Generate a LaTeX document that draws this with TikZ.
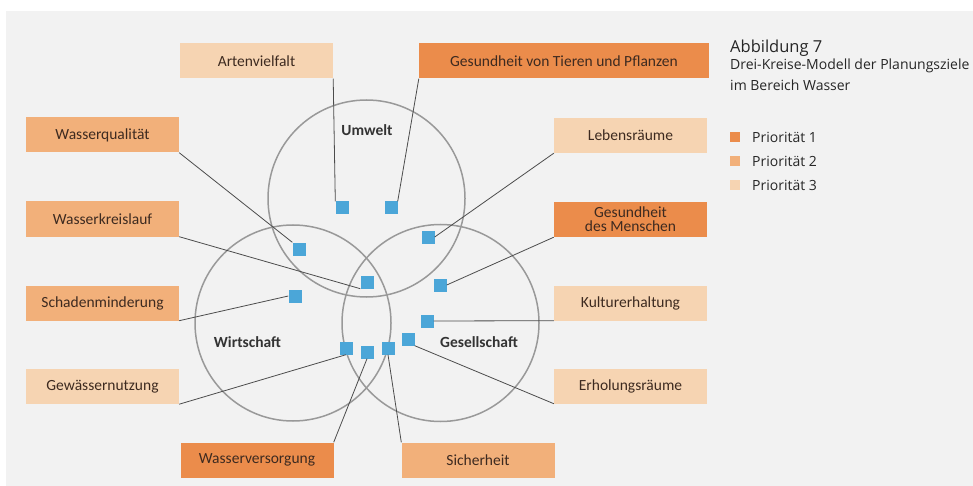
\documentclass[tikz,border=0pt]{standalone}
\usepackage{fontspec}
\setmainfont{Carlito}
\newfontfamily\legendfont{Open Sans}
\definecolor{prioA}{HTML}{EB8C4B}
\definecolor{prioB}{HTML}{F2B07A}
\definecolor{prioC}{HTML}{F6D4B2}
\definecolor{boxtext}{HTML}{3D2A20}
\definecolor{sqblue}{HTML}{4BA6D8}
\definecolor{panel}{HTML}{F2F2F2}
\begin{document}
\begin{tikzpicture}[x=1pt, y=-1pt,
    goal/.style={rectangle, minimum width=153pt, minimum height=35pt, inner sep=0pt,
        text=boxtext, font=\fontsize{15.5}{15}\selectfont, align=center},
    mark1/.style={goal, fill=prioA},
    mark2/.style={goal, fill=prioB},
    mark3/.style={goal, fill=prioC},
    spot/.style={rectangle, fill=sqblue, minimum size=13pt, inner sep=0pt},
    ring/.style={draw=black!40, line width=1.5pt},
    link/.style={draw=black!70, line width=0.8pt},
    ringlabel/.style={text=black!80, font=\fontsize{15.5}{15}\selectfont\bfseries},
    legend/.style={anchor=west, inner sep=0pt, text=black!85, font=\legendfont\fontsize{14}{14}\selectfont}]
    \useasboundingbox (0,0) rectangle (973,486);
    \fill[panel] (6,11) rectangle (973,486);

    % Three circles
    \draw[ring] (366.5,198.5) circle (98.5);
    \draw[ring] (293,323) circle (98);
    \draw[ring] (440.5,323) circle (98.5);
    \node[ringlabel] (umwelt) at (367,130) {Umwelt};
    \node[ringlabel] (wirtschaft) at (247.5,342) {Wirtschaft};
    \node[ringlabel] (gesellschaft) at (479,342) {Gesellschaft};

    % Goal boxes
    \node[mark3] (arten) at (256.5,61) {Artenvielfalt};
    \node[mark1, minimum width=290pt] (tiere) at (564,61) {Gesundheit von Tieren und Pflanzen};
    \node[mark2] (qualitaet) at (102.5,135) {Wasserqualität};
    \node[mark2] (kreislauf) at (102.5,219) {Wasserkreislauf};
    \node[mark2] (schaden) at (102.5,303) {Schadenminderung};
    \node[mark3] (nutzung) at (102.5,386.5) {Gewässernutzung};
    \node[mark3] (lebens) at (630.5,135.5) {Lebensräume};
    \node[mark1] (mensch) at (630.5,219.5) {Gesundheit\\[-1pt]des Menschen};
    \node[mark3] (kultur) at (630.5,303) {Kulturerhaltung};
    \node[mark3] (erholung) at (630.5,386) {Erholungsräume};
    \node[mark1] (versorgung) at (257,460) {Wasserversorgung};
    \node[mark2] (sicher) at (478,460) {Sicherheit};

    % Blue markers
    \node[spot] (s1) at (342,208) {};
    \node[spot] (s2) at (391,208) {};
    \node[spot] (s3) at (299,249) {};
    \node[spot] (s4) at (428,237) {};
    \node[spot] (s5) at (367,282) {};
    \node[spot] (s6) at (295,296) {};
    \node[spot] (s7) at (440,285) {};
    \node[spot] (s8) at (427,321) {};
    \node[spot] (s9) at (408,339) {};
    \node[spot] (s10) at (346,348) {};
    \node[spot] (s11) at (367,352) {};
    \node[spot] (s12) at (388,348) {};

    % Connectors
    \draw[link] (arten.south east) -- (s1.north west);
    \draw[link] (tiere.south west) -- (s2.north east);
    \draw[link] (qualitaet.south east) -- (s3.north west);
    \draw[link] (lebens.south west) -- (s4.east);
    \draw[link] (kreislauf.south east) -- (s5.south west);
    \draw[link] (mensch.south west) -- (s7.east);
    \draw[link] (schaden.south east) -- (s6.west);
    \draw[link] (kultur.south west) -- (s8.east);
    \draw[link] (nutzung.south east) -- (s10.south);
    \draw[link] (erholung.south west) -- (s9.south east);
    \draw[link] (versorgung.north east) -- (s11.south);
    \draw[link] (sicher.north west) -- (s12.south);

    % Caption and legend
    \node[legend, font=\legendfont\fontsize{16.5}{16}\selectfont] (titel) at (730,48) {Abbildung 7};
    \node[legend] (untertitel1) at (730,66) {Drei-Kreise-Modell der Planungsziele};
    \node[legend] (untertitel2) at (730,85) {im Bereich Wasser};
    \node[rectangle, fill=prioA, minimum size=10pt, inner sep=0pt] (p1) at (735,137) {};
    \node[rectangle, fill=prioB, minimum size=10pt, inner sep=0pt] (p2) at (735,161) {};
    \node[rectangle, fill=prioC, minimum size=10pt, inner sep=0pt] (p3) at (735,185) {};
    \node[legend] (l1) at (752,137) {Priorität 1};
    \node[legend] (l2) at (752,161) {Priorität 2};
    \node[legend] (l3) at (752,185) {Priorität 3};
\end{tikzpicture}
\end{document}
